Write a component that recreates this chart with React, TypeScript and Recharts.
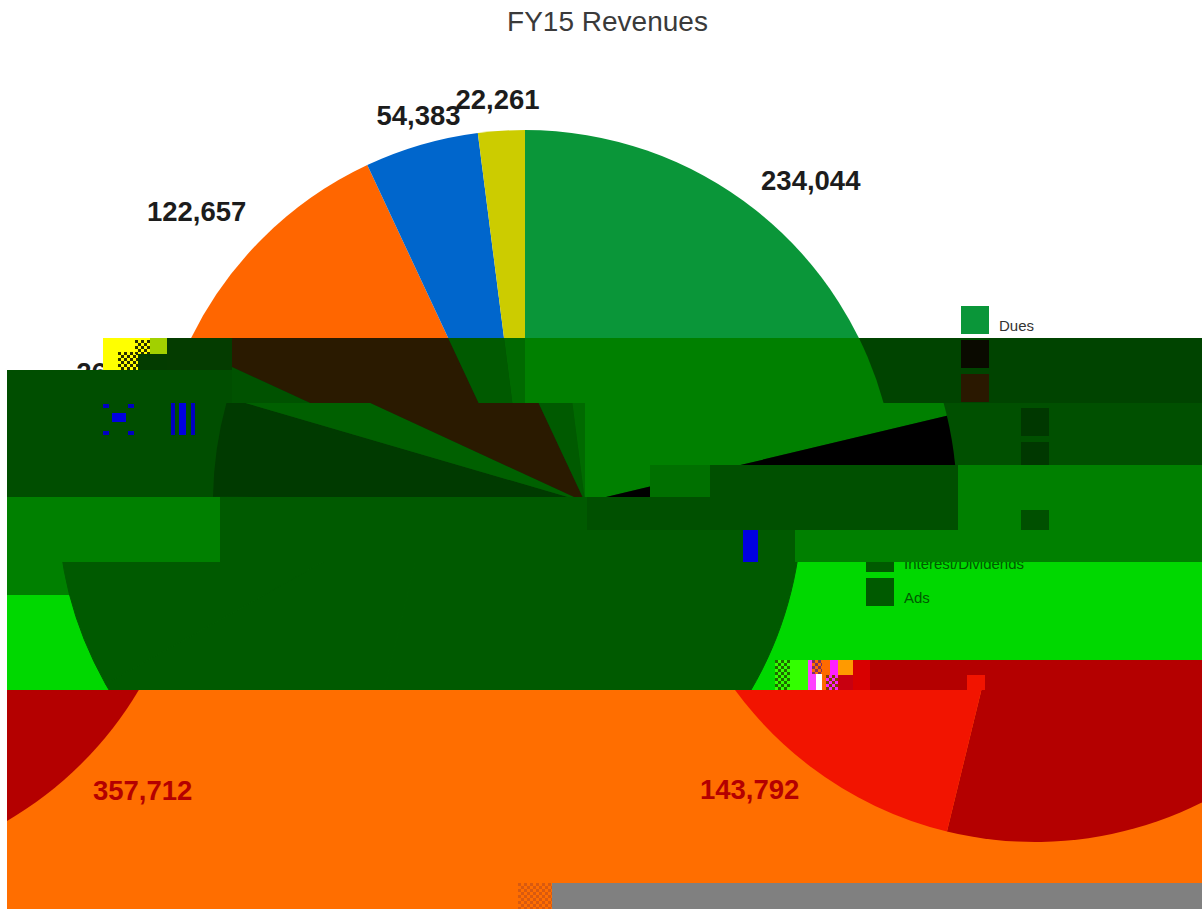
import { Legend, Pie, PieChart } from 'recharts';

// Series, clockwise from 12 o'clock. Rows 2-7 of the legend cannot be read in the picture.
const categories = ['Dues', '', '', '', '', '', '', 'Interest/Dividends', 'Ads'];
const revenues = [234044, 357712, 143792, 92000, 47000, 26000, 122657, 54383, 22261];
const labelNudges = [[18, 18], [19, -16], [-24, -24], [0, 0], [0, 0], [-2, 22], [-22, 14], [14, 28], [0, 29]];

const cleanColors = ['#0a9639', '#b30000', '#f21400', '#7a3b8f', '#3c8fd0', '#8f8f20', '#ff6600', '#0066cc', '#cccc00'];
const topDark = ['#008000', '#0a0a00', '#2a1800', '#003c00', '#003c00', '#005200', '#2a1a00', '#005a00', '#006a00'];
const midLeft = ['#008000', '#000000', '#2a1800', '#003a00', '#003a00', '#006000', '#2a1a00', '#005a00', '#006a00'];
const midRight = ['#008000', '#000000', '#000000', '#003800', '#003800', '#005000', '#005000', '#005000', '#005000'];
const lowRight = ['#008000', '#008000', '#008000', '#008000', '#008000', '#008000', '#005000', '#008000', '#008000'];
const allDark = ['#005a00', '#005a00', '#005a00', '#005a00', '#005a00', '#005a00', '#005a00', '#005a00', '#005a00'];
const lowBand = ['#ff6e00', '#b40000', '#f21400', '#ff6e00', '#ff6e00', '#ff6e00', '#ff6e00', '#ff6e00', '#ff6e00'];

const FONT = '"Liberation Sans", Arial, sans-serif';
const RAD = Math.PI / 180;

type SceneProps = { palette: string[]; ink?: string; legendInk?: string; labels?: number[]; names?: number[]; seam?: string };

function Scene({ palette, ink, legendInk, labels = [], names = [], seam = 'none' }: SceneProps) {
  const rows = categories.map((name, i) => ({ name, value: revenues[i], fill: palette[i] }));

  const renderLabel = (props: any) => {
    const { cx, cy, midAngle, outerRadius, index, value } = props;
    if (!labels.includes(index)) return null;
    const r = outerRadius + 60;
    const x = cx + r * Math.cos(-midAngle * RAD) + labelNudges[index][0];
    const y = cy + r * Math.sin(-midAngle * RAD) + labelNudges[index][1];
    return (
      <text x={x} y={y} fill={ink} fontFamily={FONT} fontWeight="bold" fontSize={27.5} textAnchor="middle" dominantBaseline="central">
        {value.toLocaleString('en-US')}
      </text>
    );
  };

  const renderLegend = () => (
    <div>
      {rows.map((row, i) => (
        <div key={i} style={{ display: 'flex', alignItems: 'center', height: 34 }}>
          <div style={{ width: 28, height: 28, background: palette[i], marginRight: 10 }} />
          {names.includes(i) && (
            <span style={{ fontFamily: FONT, fontSize: 15, color: legendInk, marginTop: 10 }}>{row.name}</span>
          )}
        </div>
      ))}
    </div>
  );

  return (
    <PieChart width={1202} height={909} margin={{ top: 0, right: 0, bottom: 0, left: 0 }}>
      <Legend content={renderLegend} wrapperStyle={{ left: 961, top: 303, width: 220, bottom: 'auto' }} />
      <Pie
        data={rows}
        dataKey="value"
        nameKey="name"
        cx={525}
        cy={502}
        outerRadius={372}
        startAngle={90}
        endAngle={-270}
        stroke={seam}
        labelLine={false}
        label={labels.length > 0 ? renderLabel : false}
        isAnimationActive={false}
      />
    </PieChart>
  );
}

// One strip of the damaged image: the chart seen through a window, shifted and recoloured
function Strip({ x, y, w, h, dx = 0, dy = 0, bg, ...scene }: any) {
  return (
    <div style={{ position: 'absolute', left: x, top: y, width: w, height: h, overflow: 'hidden', background: bg }}>
      <div style={{ position: 'absolute', left: dx - x, top: dy - y, width: 1202, height: 909 }}>
        <Scene {...scene} />
      </div>
    </div>
  );
}

function Block({ x, y, w, h, bg }: any) {
  return <div style={{ position: 'absolute', left: x, top: y, width: w, height: h, background: bg }} />;
}

const checker = (a: string, b: string) => `repeating-conic-gradient(${a} 0 25%, ${b} 0 50%) 0 0 / 6px 6px`;

export default function App() {
  return (
    <div style={{ position: 'absolute', left: 0, top: 0, width: 1202, height: 909, overflow: 'hidden', background: '#fff' }}>
      {/* clean part */}
      <Strip x={0} y={0} w={1202} h={338} bg="#fff" palette={cleanColors} ink="#1c1c1c" legendInk="#333" labels={[0, 6, 7, 8]} names={[0]} />
      <Strip x={0} y={338} w={103} h={32} bg="#fff" palette={cleanColors} ink="#1c1c1c" labels={[5]} />
      <div style={{ position: 'absolute', left: 0, top: 6, width: 1215, textAlign: 'center', fontFamily: FONT, fontSize: 28, lineHeight: '32px', color: '#3a3a3a' }}>
        FY15 Revenues
      </div>

      {/* garbled corner by the cut off label */}
      <Block x={103} y={338} w={47} h={32} bg="#ffff00" />
      <Block x={118} y={352} w={22} h={18} bg={checker('#ffff00', '#2a3000')} />
      <Block x={135} y={340} w={15} h={14} bg={checker('#ffff00', '#2a3000')} />
      <Block x={150} y={338} w={17} h={16} bg="#a2d000" />
      <Block x={138} y={354} w={29} h={16} bg="#033c00" />

      {/* dark strips, no shift */}
      <Strip x={167} y={338} w={1035} h={65} bg="#004400" palette={topDark} />
      <Block x={167} y={338} w={65} h={32} bg="#043c00" />
      <Block x={7} y={370} w={225} h={33} bg="#004e00" />

      {/* shifted by 60 */}
      <Strip x={7} y={403} w={580} h={94} dx={60} bg="#004e00" palette={midLeft} />
      <Strip x={587} y={403} w={615} h={62} dx={60} bg="#005000" palette={midRight} />
      <Strip x={587} y={465} w={63} h={32} dx={60} bg="#005000" palette={midRight} />
      <Block x={650} y={465} w={60} h={32} bg="#007000" />
      <Block x={710} y={465} w={248} h={65} bg="#005000" />
      <Strip x={958} y={465} w={244} h={65} dx={60} bg="#008000" palette={lowRight} />
      <Block x={587} y={497} w={123} h={33} bg="#005000" />

      {/* blue specks */}
      <Block x={112} y={413} w={14} h={9} bg="#0000e0" />
      <Block x={103} y={404} w={6} h={4} bg="#0000c0" />
      <Block x={128} y={404} w={6} h={4} bg="#0000c0" />
      <Block x={103} y={431} w={6} h={4} bg="#0000c0" />
      <Block x={128} y={431} w={6} h={4} bg="#0000c0" />
      <Block x={171} y={403} w={4} h={32} bg="#0000c0" />
      <Block x={179} y={403} w={7} h={32} bg="#0000e0" />
      <Block x={191} y={403} w={4} h={32} bg="#0000c0" />

      {/* green strips */}
      <Block x={7} y={497} w={213} h={65} bg="#008000" />
      <Block x={220} y={497} w={367} h={65} bg="#005a00" />
      <Block x={587} y={530} w={208} h={32} bg="#005a00" />
      <Block x={795} y={530} w={407} h={32} bg="#008000" />
      <Block x={743} y={530} w={15} h={32} bg="#0000e0" />

      {/* shifted by -95 */}
      <Strip x={7} y={562} w={300} h={33} dx={-95} bg="#008000" palette={allDark} seam="#005a00" />
      <Strip x={7} y={595} w={300} h={95} dx={-95} bg="#00d800" palette={allDark} seam="#005a00" />
      <Strip x={307} y={562} w={895} h={98} dx={-95} bg="#00d800" palette={allDark} seam="#005a00" legendInk="#005a00" names={[7, 8]} />
      <Strip x={307} y={660} w={468} h={30} dx={-95} bg="#00d800" palette={allDark} seam="#005a00" />

      {/* garbled strip */}
      <Block x={775} y={660} w={15} h={30} bg={checker('#33ff00', '#1f6a00')} />
      <Block x={790} y={660} w={18} h={30} bg="#33ff00" />
      <Block x={808} y={660} w={8} h={30} bg="#ff40ff" />
      <Block x={812} y={660} w={10} h={14} bg={checker('#ff6a00', '#803060')} />
      <Block x={822} y={660} w={8} h={30} bg="#ff6a00" />
      <Block x={830} y={660} w={8} h={30} bg="#ff20ff" />
      <Block x={826} y={675} w={12} h={15} bg={checker('#ff20ff', '#804000')} />
      <Block x={838} y={660} w={15} h={15} bg="#ff9a00" />
      <Block x={838} y={675} w={15} h={15} bg="#c80010" />
      <Block x={853} y={660} w={17} h={30} bg="#d80000" />
      <Block x={870} y={660} w={332} h={30} bg="#b40000" />
      <Block x={967} y={675} w={18} h={15} bg="#f21400" />

      {/* orange strip, the pie wraps round the edge */}
      <div style={{ position: 'absolute', left: 7, top: 690, width: 1195, height: 219, overflow: 'hidden', background: '#ff6e00' }}>
        <div style={{ position: 'absolute', left: 503, top: -722, width: 1202, height: 909 }}>
          <Scene palette={lowBand} ink="#b40000" labels={[2]} />
        </div>
        <div style={{ position: 'absolute', left: -713, top: -692, width: 1202, height: 909 }}>
          <Scene palette={lowBand} ink="#b40000" labels={[1]} />
        </div>
      </div>
      <Block x={518} y={883} w={34} h={26} bg={checker('#ff6e00', '#d85a10')} />
      <Block x={552} y={883} w={650} h={26} bg="#808080" />
    </div>
  );
}
